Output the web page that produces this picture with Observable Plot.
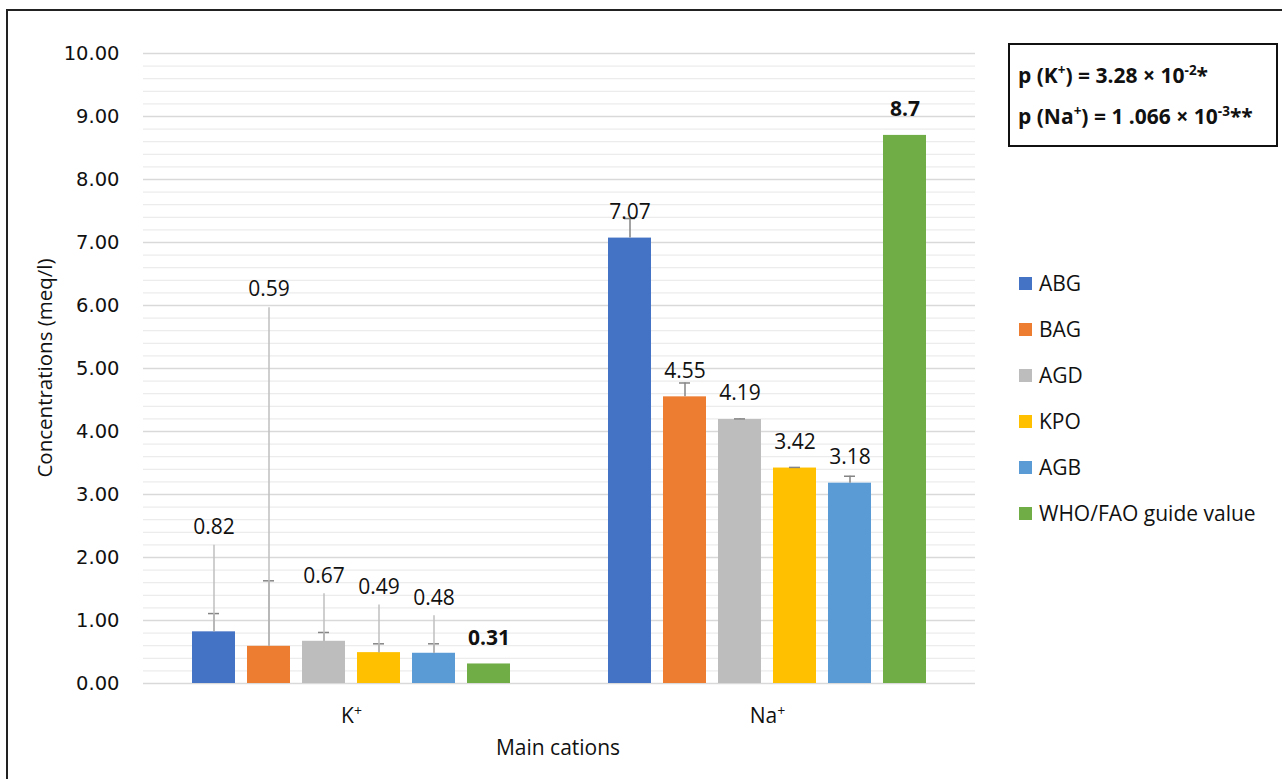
<!DOCTYPE html>
<html>
<head>
<meta charset="utf-8">
<script src="https://cdn.jsdelivr.net/npm/d3@7"></script>
<script src="https://cdn.jsdelivr.net/npm/@observablehq/plot@0.6"></script>
<style>
  html, body { margin: 0; padding: 0; background: #fff; }
  body { width: 1282px; height: 779px; overflow: hidden; position: relative; font-family: "Open Sans", sans-serif; color: #111; }
  #frame { position: absolute; left: 6px; top: 9px; width: 1300px; height: 800px; border: 2px solid #222; box-sizing: border-box; }
  #chart { position: absolute; left: 0; top: 0; }
  .ytitle { position: absolute; left: 44px; top: 368px; transform: translate(-50%, -50%) rotate(-90deg); white-space: nowrap; font-size: 20.5px; }
  .xtitle { position: absolute; left: 558px; top: 747px; transform: translate(-50%, -50%); white-space: nowrap; font-size: 21px; }
  .legend { position: absolute; left: 1019px; top: 260px; }
  .legend .row { display: flex; align-items: center; height: 46px; font-size: 21px; white-space: nowrap; }
  .legend .sw { width: 13px; height: 13px; margin-right: 7px; }
  .pbox { position: absolute; left: 1008px; top: 43px; width: 270px; height: 104px; border: 2px solid #111; box-sizing: border-box; font-weight: bold; font-size: 21px; padding: 10px 0 0 8px; line-height: 41px; white-space: nowrap; }
  .pbox sup { font-size: 13.5px; vertical-align: 8px; line-height: 0; }
</style>
</head>
<body>
<div id="frame"></div>
<div id="chart"></div>
<div class="ytitle">Concentrations (meq/l)</div>
<div class="xtitle">Main cations</div>
<div class="pbox">
  <div>p (K<sup>+</sup>) = 3.28 × 10<sup>-2</sup>*</div>
  <div>p (Na<sup>+</sup>) = 1 .066 × 10<sup>-3</sup>**</div>
</div>
<div class="legend" id="legend"></div>
<script>
// ---- data ----
const cations = ["K+", "Na+"];
const series = ["ABG", "BAG", "AGD", "KPO", "AGB", "WHO/FAO guide value"];
const colors = ["#4472C4", "#ED7D31", "#BDBDBD", "#FFC000", "#5B9BD5", "#70AD47"];
const kValues = [0.82, 0.59, 0.67, 0.49, 0.48, 0.31];
const naValues = [7.07, 4.55, 4.19, 3.42, 3.18, 8.7];
const kErrors = [0.29, 1.04, 0.14, 0.14, 0.15, null];
const naErrors = [0.31, 0.22, 0.01, 0.01, 0.11, null];
// K+ data labels were moved up in the original (with leader lines); label centres in meq/l
const kLabelAt = [2.48, 6.25, 1.71, 1.53, 1.36, null];
const yMajorTicks = [0, 1, 2, 3, 4, 5, 6, 7, 8, 9, 10];

// ---- table ----
const valuesBy = [kValues, naValues];
const errorsBy = [kErrors, naErrors];
const labelBy = [kLabelAt, series.map(() => null)];
const data = [];
cations.forEach((c, ci) => series.forEach((s, si) => {
  data.push({
    cation: c, series: s,
    value: valuesBy[ci][si],
    err: errorsBy[ci][si],
    labelAt: labelBy[ci][si],
    label: String(valuesBy[ci][si]),
    bold: si === series.length - 1
  });
}));
const withErr = data.filter(d => d.err != null);
const moved = data.filter(d => d.labelAt != null);
const plain = data.filter(d => d.labelAt == null && !d.bold);
const bold = data.filter(d => d.labelAt == null && d.bold);
const yMinorTicks = d3.range(0, 10.0001, 0.2).filter(v => Math.abs(v - Math.round(v)) > 1e-6);

const chart = Plot.plot({
  width: 1282,
  height: 779,
  marginLeft: 142,
  marginRight: 307,
  marginTop: 53,
  marginBottom: 96,
  style: { fontFamily: "Open Sans, sans-serif", fontSize: "21px", color: "#111", background: "transparent" },
  fx: { domain: cations, padding: 0, label: null, axis: "bottom", tickSize: 0, tickPadding: 25 },
  x: { domain: series, paddingInner: 0.216, paddingOuter: 0.853, axis: null },
  y: { domain: [0, 10], ticks: yMajorTicks, tickFormat: d3.format(".2f"), tickSize: 0, tickPadding: 24, label: null },
  color: { domain: series, range: colors },
  marks: [
    Plot.ruleY(yMinorTicks, { stroke: "#ececec", strokeWidth: 1.3 }),
    Plot.ruleY(yMajorTicks, { stroke: "#d9d9d9", strokeWidth: 1.3 }),
    Plot.barY(data, { fx: "cation", x: "series", y: "value", fill: "series" }),
    Plot.ruleX(withErr, { fx: "cation", x: "series", y1: "value", y2: d => d.value + d.err, stroke: "#858585", strokeWidth: 1.5 }),
    Plot.tickY(withErr, { fx: "cation", x: "series", y: d => d.value + d.err, stroke: "#858585", strokeWidth: 1.5, insetLeft: 16, insetRight: 16 }),
    Plot.ruleX(moved, { fx: "cation", x: "series", y1: "labelAt", y2: "value", insetTop: 18, stroke: "#bfbfbf", strokeWidth: 1.5 }),
    Plot.text(moved, { fx: "cation", x: "series", y: "labelAt", text: "label", fill: "#111", fontSize: 21 }),
    Plot.text(plain, { fx: "cation", x: "series", y: "value", dy: -26, text: "label", fill: "#111", fontSize: 21 }),
    Plot.text(bold, { fx: "cation", x: "series", y: "value", dy: -26, text: "label", fill: "#111", fontSize: 21, fontWeight: "bold" })
  ]
});
document.getElementById("chart").appendChild(chart);

const ns = "http://www.w3.org/2000/svg";
const yLabels = yMajorTicks.map(d3.format(".2f"));
chart.querySelectorAll("text").forEach(t => {
  const s = t.textContent;
  // superscript "+" in the category labels
  if (cations.includes(s)) {
    t.textContent = "";
    const a = document.createElementNS(ns, "tspan");
    a.textContent = s.slice(0, -1);
    const b = document.createElementNS(ns, "tspan");
    b.textContent = "+";
    b.setAttribute("font-size", "14px");
    b.setAttribute("dy", "-0.55em");
    t.appendChild(a); t.appendChild(b);
  }
  // y tick labels in a wider face, as in the original
  if (yLabels.includes(s)) {
    t.style.fontFamily = "'DejaVu Sans', sans-serif";
    t.style.fontSize = "19.5px";
    t.style.fill = "#111";
  }
});

// legend
const leg = document.getElementById("legend");
series.forEach((s, i) => {
  const row = document.createElement("div");
  row.className = "row";
  const sw = document.createElement("span");
  sw.className = "sw";
  sw.style.background = colors[i];
  const tx = document.createElement("span");
  tx.textContent = s;
  row.appendChild(sw); row.appendChild(tx);
  leg.appendChild(row);
});
</script>
</body>
</html>
